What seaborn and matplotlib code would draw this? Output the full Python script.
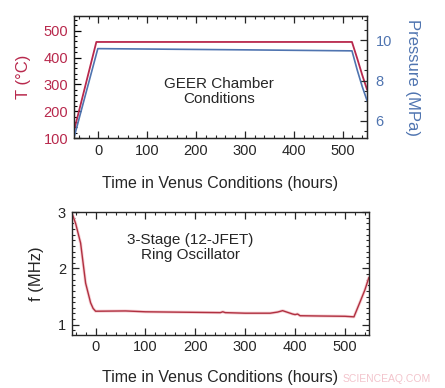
import numpy as np
import pandas as pd
import seaborn as sns
import matplotlib
matplotlib.use("Agg")
import matplotlib.pyplot as plt
from matplotlib.ticker import MultipleLocator

# --- data ---
T_HOURS = [-50, -4, 519, 530, 540, 550]
T_VALUES = [125, 458, 458, 395, 335, 280]

P_HOURS = [-50, -1, 100, 300, 519, 530, 540, 550]
P_VALUES = [5.15, 9.58, 9.56, 9.52, 9.47, 8.5, 7.7, 7.0]

F_HOURS = [-48, -40, -30, -20, -10, -5, 0, 60, 100, 200, 250, 255, 260, 300,
           350, 365, 375, 385, 395, 400, 405, 410, 450, 500, 518, 530, 540, 548]
F_VALUES = [3.0, 2.8, 2.45, 1.74, 1.39, 1.29, 1.24, 1.245, 1.23, 1.22, 1.215,
            1.23, 1.215, 1.205, 1.205, 1.225, 1.25, 1.22, 1.19, 1.18, 1.19,
            1.16, 1.155, 1.15, 1.14, 1.4, 1.62, 1.84]

RED = "#b8284c"
BLUE = "#4f74b0"
FRED = "#b03040"

sns.set_style("ticks")
plt.rcParams["font.family"] = ["Liberation Sans", "DejaVu Sans"]
plt.rcParams["xtick.direction"] = "in"
plt.rcParams["ytick.direction"] = "in"

df_t = pd.DataFrame({"hours": T_HOURS, "T": T_VALUES})
df_p = pd.DataFrame({"hours": P_HOURS, "P": P_VALUES})
df_f = pd.DataFrame({"hours": F_HOURS, "f": F_VALUES})

fig = plt.figure(figsize=(4.45, 3.88), dpi=100)
ax1 = fig.add_axes([0.166, 0.644, 0.659, 0.315])
ax2 = fig.add_axes([0.161, 0.137, 0.668, 0.316])


def style_ticks(ax, right=True):
    ax.tick_params(which="major", length=5, width=0.9, top=True, right=right,
                   labelsize=10.5, pad=4)
    ax.tick_params(which="minor", length=2.5, width=0.8, top=True, right=right)
    for s in ax.spines.values():
        s.set_linewidth(1.0)
        s.set_visible(True)


# --- top panel: chamber conditions ---
sns.lineplot(data=df_t, x="hours", y="T", ax=ax1, color=RED, lw=1.3)
ax1.set_xlim(-50, 550)
ax1.set_ylim(100, 555)
ax1.xaxis.set_major_locator(MultipleLocator(100))
ax1.xaxis.set_minor_locator(MultipleLocator(20))
ax1.yaxis.set_major_locator(MultipleLocator(100))
ax1.yaxis.set_minor_locator(MultipleLocator(20))
style_ticks(ax1, right=False)
ax1.tick_params(axis="y", which="both", colors="black", labelcolor=RED)
ax1.set_ylabel("T (°C)", color=RED, fontsize=12, labelpad=9)
ax1.set_xlabel("Time in Venus Conditions (hours)", fontsize=11.5, labelpad=13)

ax1b = ax1.twinx()
sns.lineplot(data=df_p, x="hours", y="P", ax=ax1b, color=BLUE, lw=1.2)
ax1b.set_ylim(5.15, 11.2)
ax1b.yaxis.set_major_locator(MultipleLocator(2))
ax1b.yaxis.set_minor_locator(MultipleLocator(0.5))
ax1b.tick_params(axis="y", which="major", length=5, width=0.9, labelsize=10.5,
                 labelcolor=BLUE, direction="in", pad=6)
ax1b.tick_params(axis="y", which="minor", length=2.5, width=0.8, direction="in")
ax1b.set_ylabel("Pressure (MPa)", color=BLUE, fontsize=12, rotation=270,
                labelpad=20)
ax1b.set_xlabel("")
ax1.text(0.495, 0.38, "GEER Chamber\nConditions", transform=ax1.transAxes,
         ha="center", va="center", fontsize=11, linespacing=1.05)

# --- bottom panel: ring oscillator frequency ---
sns.lineplot(data=df_f, x="hours", y="f", ax=ax2, color="#f6d0d5", lw=2.2)
sns.lineplot(data=df_f, x="hours", y="f", ax=ax2, color=FRED, lw=1.0)
ax2.set_xlim(-48, 548)
ax2.set_ylim(0.82, 3.0)
ax2.xaxis.set_major_locator(MultipleLocator(100))
ax2.xaxis.set_minor_locator(MultipleLocator(20))
ax2.yaxis.set_major_locator(MultipleLocator(1))
ax2.yaxis.set_minor_locator(MultipleLocator(0.1))
style_ticks(ax2, right=True)
ax2.set_ylabel("f (MHz)", fontsize=12, labelpad=10)
ax2.set_xlabel("Time in Venus Conditions (hours)", fontsize=11.5, labelpad=11)
ax2.text(0.40, 0.714, "3-Stage (12-JFET)\nRing Oscillator", transform=ax2.transAxes,
         ha="center", va="center", fontsize=11, linespacing=1.05)

fig.text(0.87, 0.022, "SCIENCEAQ.COM", color="#f3c4cc", fontsize=7.5,
         ha="center", va="center")

fig.savefig("out.png", dpi=100, facecolor="white")
